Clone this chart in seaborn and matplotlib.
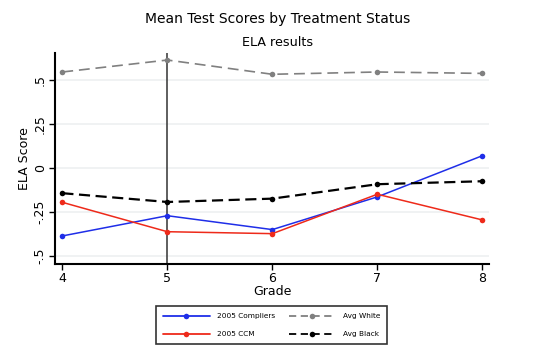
import matplotlib
matplotlib.use("Agg")
import matplotlib.pyplot as plt
import seaborn as sns
import pandas as pd
from matplotlib.lines import Line2D

grades = [4, 5, 6, 7, 8]
compliers = [-0.388, -0.273, -0.352, -0.166, 0.068]
ccm = [-0.197, -0.364, -0.375, -0.151, -0.297]
white = [0.544, 0.612, 0.531, 0.544, 0.536]
black = [-0.145, -0.195, -0.176, -0.094, -0.077]
series_names = ["2005 Compliers", "2005 CCM", "Avg White", "Avg Black"]
yticks = [-0.5, -0.25, 0, 0.25, 0.5]
ytick_labels = ["-.5", "-.25", "0", ".25", ".5"]

rows = []
for name, vals in zip(series_names, [compliers, ccm, white, black]):
    for g, v in zip(grades, vals):
        rows.append({"Grade": g, "Score": v, "Series": name})
df = pd.DataFrame(rows)

sns.set_style("white")
plt.rcParams['font.family'] = ['DejaVu Sans']
plt.rcParams['text.color'] = 'black'
plt.rcParams['axes.labelcolor'] = 'black'
plt.rcParams['xtick.color'] = 'black'
plt.rcParams['ytick.color'] = 'black'

fig = plt.figure(figsize=(5.59, 3.63), dpi=100)
ax = fig.add_axes([0.0984, 0.273, 0.777, 0.581])

palette = {"2005 Compliers": "#1f2ee8", "2005 CCM": "#ee2a1a",
           "Avg White": "#808080", "Avg Black": "#000000"}
dashes = {"2005 Compliers": "", "2005 CCM": "",
          "Avg White": (6.5, 3.5), "Avg Black": (5, 2.5)}
widths = {"2005 Compliers": 1.1, "2005 CCM": 1.1, "Avg White": 1.2, "Avg Black": 1.6}

for g in yticks:
    ax.axhline(g, color="#eef0f1", lw=1.2, zorder=0)

ax.axvline(5, color="#333333", lw=1.1, zorder=1)

sns.lineplot(data=df, x="Grade", y="Score", hue="Series", style="Series",
             palette=palette, dashes=dashes, markers={n: "o" for n in series_names},
             markersize=4, markeredgewidth=0, linewidth=1.1, ax=ax, legend=False,
             zorder=3)
for line in ax.get_lines():
    c = matplotlib.colors.to_hex(line.get_color())
    for n in series_names:
        if c == palette[n] and len(line.get_xdata()) == len(grades):
            line.set_linewidth(widths[n])
            if dashes[n]:
                line.set_dashes(dashes[n])

ax.set_xlim(3.93, 8.067)
ax.set_ylim(-0.547, 0.652)
ax.set_xticks(grades)
ax.set_yticks(yticks)
ax.set_yticklabels(ytick_labels, rotation=90, va="center")
ax.tick_params(axis="both", which="both", length=4, width=1, color="black",
               labelsize=9, direction="out", left=True, bottom=True, pad=2)
for s in ["top", "right"]:
    ax.spines[s].set_visible(False)
for s in ["left", "bottom"]:
    ax.spines[s].set_color("black")
    ax.spines[s].set_linewidth(1.5)
ax.set_xlabel("Grade", fontsize=9, labelpad=0)
ax.set_ylabel("ELA Score", fontsize=9, labelpad=2)

fig.text(0.496, 0.938, "Mean Test Scores by Treatment Status", ha="center", fontsize=10)
fig.text(0.496, 0.874, "ELA results", ha="center", fontsize=9.2)

handles = []
for n in series_names:
    ls = "-" if dashes[n] == "" else (0, (4, 2.5))
    handles.append(Line2D([0], [0], color=palette[n], lw=1.3, linestyle=ls,
                          marker="o", markersize=4, markeredgewidth=0))
leg = fig.legend(handles, series_names, loc="center", bbox_to_anchor=(0.486, 0.104),
                 ncol=2, fontsize=5.3, frameon=True, fancybox=False, edgecolor="black",
                 handlelength=6.3, columnspacing=1.9, borderpad=0.95, labelspacing=1.6,
                 markerscale=1.0, handletextpad=1.0, borderaxespad=0)
leg.get_frame().set_linewidth(1.2)

fig.savefig("out.png", dpi=100, facecolor="white")
